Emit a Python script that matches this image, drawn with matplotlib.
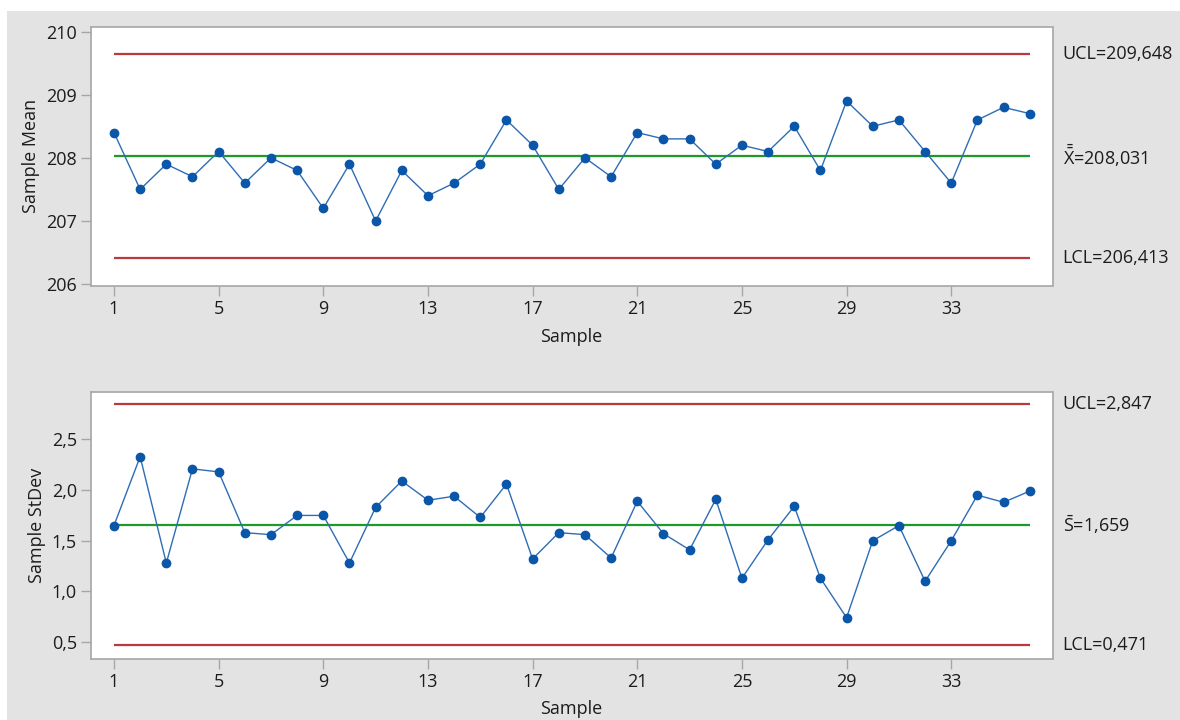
import numpy as np
import matplotlib
matplotlib.use("Agg")
from matplotlib import pyplot as plt
from matplotlib.patches import Rectangle

plt.rcParams['font.family'] = ['Open Sans', 'DejaVu Sans']
plt.rcParams['mathtext.fontset'] = 'custom'
plt.rcParams['mathtext.rm'] = 'Open Sans'
plt.rcParams['mathtext.it'] = 'Open Sans'

# Xbar-S chart data, 36 subgroups
samples = np.arange(1, 37)
sample_mean = [208.4, 207.5, 207.9, 207.7, 208.1, 207.6, 208.0, 207.8, 207.2, 207.9,
               207.0, 207.8, 207.4, 207.6, 207.9, 208.6, 208.2, 207.5, 208.0, 207.7,
               208.4, 208.3, 208.3, 207.9, 208.2, 208.1, 208.5, 207.8, 208.9, 208.5,
               208.6, 208.1, 207.6, 208.6, 208.8, 208.7]
sample_sd = [1.65, 2.33, 1.28, 2.21, 2.18, 1.58, 1.56, 1.75, 1.75, 1.28,
             1.83, 2.09, 1.90, 1.94, 1.73, 2.06, 1.32, 1.58, 1.56, 1.33,
             1.89, 1.57, 1.41, 1.91, 1.13, 1.51, 1.84, 1.13, 0.74, 1.50,
             1.65, 1.10, 1.50, 1.95, 1.88, 1.99]
mean_limits = {'UCL': 209.648, 'CL': 208.031, 'LCL': 206.413}
sd_limits = {'UCL': 2.847, 'CL': 1.659, 'LCL': 0.471}
xticks = [1, 5, 9, 13, 17, 21, 25, 29, 33]
mean_yticks = [206, 207, 208, 209, 210]
sd_yticks = [0.5, 1.0, 1.5, 2.0, 2.5]

BG = '#e3e3e3'
RED = '#b83a3a'
GREEN = '#1e9a2a'
BLUE = '#0a56a8'
FRAME = '#a6a6a6'
TEXT = '#1c1c1c'
FS = 13


def comma(v, nd):
    return f'{v:.{nd}f}'.replace('.', ',')


def draw_chart(ax, values, limits, yticks, ylim, ylabel, cl_label, tick_nd):
    ax.set_facecolor('white')
    for sp in ax.spines.values():
        sp.set_color(FRAME)
        sp.set_linewidth(1.2)
    ax.hlines([limits['UCL'], limits['LCL']], samples[0], samples[-1],
              color=RED, lw=1.6, zorder=2)
    ax.hlines(limits['CL'], samples[0], samples[-1], color=GREEN, lw=1.6, zorder=2)
    ax.plot(samples, values, color='#2e6db4', lw=1.0, marker='o', ms=6,
            mfc=BLUE, mec=BLUE, zorder=3)
    ax.set_xlim(0.11, 36.87)
    ax.set_ylim(*ylim)
    ax.set_xticks(xticks)
    ax.set_yticks(yticks)
    ax.set_yticklabels([comma(t, tick_nd) for t in yticks])
    ax.tick_params(axis='both', colors=FRAME, labelcolor=TEXT,
                   labelsize=FS, length=7, width=1.0, pad=3)
    ax.set_xlabel('Sample', fontsize=FS, color=TEXT, labelpad=7)
    ax.set_ylabel(ylabel, fontsize=FS, color=TEXT, labelpad=4)
    tr = ax.get_yaxis_transform()
    labels = [('UCL', 'UCL'), ('CL', cl_label), ('LCL', 'LCL')]
    for key, name in labels:
        ax.text(1.0104, limits[key], name + '=' + comma(limits[key], 3), transform=tr,
                fontsize=FS, va='center', ha='left', color=TEXT)


fig = plt.figure(figsize=(11.8, 7.2), dpi=100, facecolor='white')
fig.patches.append(Rectangle((7 / 1180, 0), 1, 1 - 11 / 720, transform=fig.transFigure,
                             facecolor=BG, edgecolor='none', zorder=-10))

left, width = 90.7 / 1180, (1052.5 - 90.7) / 1180
ax1 = fig.add_axes([left, 1 - 286 / 720, width, (286 - 26.5) / 720])
draw_chart(ax1, sample_mean, mean_limits, mean_yticks, (205.97, 210.08),
           'Sample Mean', r'$\bar{\bar{\mathrm{X}}}$', 0)

ax2 = fig.add_axes([left, 1 - 658.7 / 720, width, (658.7 - 391.7) / 720])
draw_chart(ax2, sample_sd, sd_limits, sd_yticks, (0.335, 2.972),
           'Sample StDev', r'$\bar{\mathrm{S}}$', 1)

fig.savefig('out.png', dpi=100, facecolor=fig.get_facecolor())
